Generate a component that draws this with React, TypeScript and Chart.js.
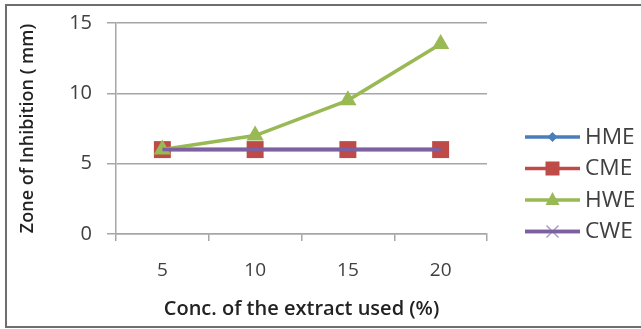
import React, { useEffect, useRef } from "react";
import { Chart, registerables } from "chart.js";

Chart.register(...registerables);

const categories = ["5", "10", "15", "20"];
const seriesNames = ["HME", "CME", "HWE", "CWE"];
const hme = [6, 6, 6, 6];
const cme = [6, 6, 6, 6];
const hwe = [6, 7, 9.5, 13.5];
const cwe = [6, 6, 6, 6];
const yTicks = [0, 5, 10, 15];
const xTitle = "Conc. of the extract used (%)";
const yTitle = "Zone of Inhibition ( mm)";

const FONT = "'Open Sans', Lato, sans-serif";

const framePlugin = {
  id: "frame",
  beforeDraw(chart: any) {
    const ctx = chart.ctx;
    ctx.save();
    ctx.fillStyle = "#ffffff";
    ctx.fillRect(0, 0, chart.width, chart.height);
    ctx.strokeStyle = "#6e6e6e";
    ctx.lineWidth = 2;
    ctx.strokeRect(6, 5, chart.width + 10, 322);
    ctx.restore();
  },
};

const legendPlugin = {
  id: "customLegend",
  afterDraw(chart: any) {
    const ctx = chart.ctx;
    const x0 = 525;
    const x1 = 580;
    const startY = 137;
    const step = 31.5;
    ctx.save();
    chart.data.datasets.forEach((ds: any, i: number) => {
      const y = startY + i * step;
      ctx.strokeStyle = ds.borderColor;
      ctx.lineWidth = 3.5;
      ctx.beginPath();
      ctx.moveTo(x0, y);
      ctx.lineTo(x1, y);
      ctx.stroke();
      const cx = (x0 + x1) / 2;
      ctx.fillStyle = ds.pointBackgroundColor;
      const style = ds.pointStyle;
      if (style === "rectRot") {
        ctx.beginPath();
        ctx.moveTo(cx, y - 5);
        ctx.lineTo(cx + 5, y);
        ctx.lineTo(cx, y + 5);
        ctx.lineTo(cx - 5, y);
        ctx.closePath();
        ctx.fill();
      } else if (style === "rect") {
        ctx.fillRect(cx - 7, y - 7, 14, 14);
      } else if (style === "triangle") {
        ctx.beginPath();
        ctx.moveTo(cx, y - 8);
        ctx.lineTo(cx + 7, y + 5);
        ctx.lineTo(cx - 7, y + 5);
        ctx.closePath();
        ctx.fill();
      } else if (style === "crossRot") {
        ctx.strokeStyle = "#a99bc4";
        ctx.lineWidth = 1.5;
        ctx.beginPath();
        ctx.moveTo(cx - 6, y - 6);
        ctx.lineTo(cx + 6, y + 6);
        ctx.moveTo(cx + 6, y - 6);
        ctx.lineTo(cx - 6, y + 6);
        ctx.stroke();
        ctx.strokeStyle = ds.borderColor;
        ctx.lineWidth = 3.5;
        ctx.beginPath();
        ctx.moveTo(x0, y);
        ctx.lineTo(x1, y);
        ctx.stroke();
      }
      ctx.fillStyle = "#404040";
      ctx.font = `21px ${FONT}`;
      ctx.textAlign = "left";
      ctx.textBaseline = "middle";
      ctx.save();
      ctx.translate(585, y + 1);
      ctx.scale(1.08, 1);
      ctx.fillText(ds.label, 0, 0);
      ctx.restore();
    });
    ctx.restore();
  },
};

export default function App() {
  const ref = useRef<HTMLCanvasElement>(null);
  useEffect(() => {
    document.body.style.margin = "0";
    const colors = ["#4a7ebb", "#be4b48", "#98b954", "#7d60a0"];
    const styles = ["rectRot", "rect", "triangle", "crossRot"];
    const radii = [5, 12, 10, 0];
    const orders = [4, 3, 2, 1];
    const values = [hme, cme, hwe, cwe];
    const chart = new Chart(ref.current!, {
      type: "line",
      data: {
        labels: categories,
        datasets: seriesNames.map((name, i) => ({
          label: name,
          data: values[i],
          borderColor: colors[i],
          backgroundColor: colors[i],
          pointBackgroundColor: colors[i],
          pointBorderColor: colors[i],
          pointBorderWidth: 0,
          pointStyle: styles[i],
          pointRadius: radii[i],
          borderWidth: 3.5,
          tension: 0,
          order: orders[i],
        })),
      },
      options: {
        animation: false,
        responsive: false,
        layout: { padding: { left: 8, top: 23, right: 154, bottom: 8 } },
        plugins: { legend: { display: false }, tooltip: { enabled: false } },
        scales: {
          x: {
            offset: true,
            grid: {
              offset: true,
              drawOnChartArea: false,
              drawTicks: true,
              tickLength: 7,
              color: "#a6a6a6",
              lineWidth: 1.5,
            },
            border: { color: "#a6a6a6", width: 1.5 },
            ticks: {
              color: "#404040",
              font: { family: FONT, size: 19 },
              padding: 18,
              maxRotation: 0,
            },
            title: {
              display: true,
              text: xTitle,
              color: "#222222",
              font: { family: FONT, size: 20, weight: "600" },
              padding: { top: 0, bottom: 0 },
            },
            afterFit: (s: any) => {
              s.height = 87;
              s.paddingLeft = 0;
              s.paddingRight = 0;
            },
          },
          y: {
            min: 0,
            max: 15,
            afterBuildTicks: (s: any) => {
              s.ticks = yTicks.map((v) => ({ value: v }));
            },
            grid: {
              color: "#a6a6a6",
              lineWidth: 1.5,
              tickLength: 9,
            },
            border: { color: "#a6a6a6", width: 1.5 },
            ticks: {
              color: "#404040",
              font: { family: FONT, size: 20 },
              padding: 15,
            },
            title: {
              display: true,
              text: yTitle,
              color: "#222222",
              font: { family: FONT, size: 18, weight: "600" },
              padding: { top: 9, bottom: 0 },
            },
            afterFit: (s: any) => {
              s.width = 108;
              s.paddingTop = 0;
              s.paddingBottom = 0;
            },
          },
        },
      },
      plugins: [framePlugin, legendPlugin],
    });
    return () => chart.destroy();
  }, []);
  return (
    <div style={{ position: "absolute", left: 0, top: 0, width: 641, height: 329 }}>
      <canvas ref={ref} width={641} height={329} style={{ display: "block" }} />
    </div>
  );
}
